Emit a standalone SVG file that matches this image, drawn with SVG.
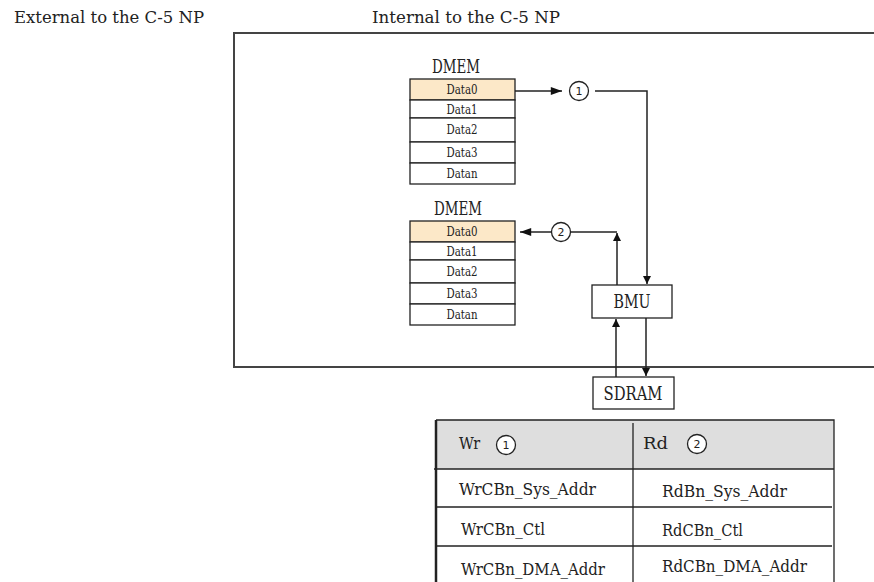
<svg xmlns="http://www.w3.org/2000/svg" width="874" height="582" viewBox="0 0 874 582">
<defs>
<style>
text{font-family:"DejaVu Serif","Liberation Serif",serif;fill:#222}
.lbl{font-size:16px}
.cell{font-size:12px;text-anchor:middle}
.big{font-size:18px;text-anchor:middle}
.tb{font-size:16px}
.num{font-size:11px;text-anchor:middle;font-family:"DejaVu Sans",sans-serif}
.box{fill:#fff;stroke:#222;stroke-width:1.3}
.hl{fill:#fce8c8;stroke:#222;stroke-width:1.3}
.ln{fill:none;stroke:#222;stroke-width:1.5}
.frame{fill:none;stroke:#444;stroke-width:2}
.circ{fill:#fff;stroke:#222;stroke-width:1.3}
</style>
<marker id="ah" viewBox="0 0 10 10" refX="10" refY="5" markerWidth="10" markerHeight="8" markerUnits="userSpaceOnUse" orient="auto">
<path d="M0,0 L10,5 L0,10 z" fill="#111"/>
</marker>
<marker id="ahl" viewBox="0 0 14 10" refX="14" refY="5" markerWidth="14" markerHeight="8" markerUnits="userSpaceOnUse" orient="auto">
<path d="M0,0 L14,5 L0,10 z" fill="#111"/>
</marker>
</defs>
<rect width="874" height="582" fill="#fff"/>

<g id="labels">
<text class="lbl" x="14" y="23" textLength="190" lengthAdjust="spacingAndGlyphs">External to the C-5 NP</text>
<text class="lbl" x="372" y="23" textLength="188" lengthAdjust="spacingAndGlyphs">Internal to the C-5 NP</text>
</g>

<g id="frame">
<path class="frame" d="M874,33 H234 V367 H874"/>
</g>

<g id="dmem1">
<text class="big" x="456" y="73" textLength="48" lengthAdjust="spacingAndGlyphs">DMEM</text>
<rect class="hl" x="410" y="79" width="105" height="21"/>
<rect class="box" x="410" y="100" width="105" height="18"/>
<rect class="box" x="410" y="118" width="105" height="24"/>
<rect class="box" x="410" y="142" width="105" height="21"/>
<rect class="box" x="410" y="163" width="105" height="21"/>
<text class="cell" x="462" y="94" textLength="31" lengthAdjust="spacingAndGlyphs">Data0</text>
<text class="cell" x="462" y="114" textLength="31" lengthAdjust="spacingAndGlyphs">Data1</text>
<text class="cell" x="462" y="134" textLength="31" lengthAdjust="spacingAndGlyphs">Data2</text>
<text class="cell" x="462" y="157" textLength="31" lengthAdjust="spacingAndGlyphs">Data3</text>
<text class="cell" x="462" y="178" textLength="31" lengthAdjust="spacingAndGlyphs">Datan</text>
</g>

<g id="dmem2">
<text class="big" x="458" y="215" textLength="48" lengthAdjust="spacingAndGlyphs">DMEM</text>
<rect class="hl" x="410" y="221" width="105" height="21"/>
<rect class="box" x="410" y="242" width="105" height="18"/>
<rect class="box" x="410" y="260" width="105" height="23"/>
<rect class="box" x="410" y="283" width="105" height="21"/>
<rect class="box" x="410" y="304" width="105" height="21"/>
<text class="cell" x="462" y="236" textLength="31" lengthAdjust="spacingAndGlyphs">Data0</text>
<text class="cell" x="462" y="256" textLength="31" lengthAdjust="spacingAndGlyphs">Data1</text>
<text class="cell" x="462" y="276" textLength="31" lengthAdjust="spacingAndGlyphs">Data2</text>
<text class="cell" x="462" y="298" textLength="31" lengthAdjust="spacingAndGlyphs">Data3</text>
<text class="cell" x="462" y="319" textLength="31" lengthAdjust="spacingAndGlyphs">Datan</text>
</g>

<g id="bmu">
<rect class="box" x="592" y="285" width="80" height="33"/>
<text class="big" x="632" y="308" textLength="37" lengthAdjust="spacingAndGlyphs">BMU</text>
</g>

<g id="sdram">
<rect class="box" x="593" y="377" width="81" height="32"/>
<text class="big" x="633" y="400" textLength="59" lengthAdjust="spacingAndGlyphs">SDRAM</text>
</g>

<g id="connectors">
<line class="ln" x1="515" y1="91" x2="562" y2="91" marker-end="url(#ahl)"/>
<path class="ln" d="M595,91 H647 V284" marker-end="url(#ah)"/>
<path class="ln" d="M617,285 V233" marker-end="url(#ah)"/>
<line class="ln" x1="617" y1="232" x2="571" y2="232"/>
<line class="ln" x1="551" y1="232" x2="520" y2="232" marker-end="url(#ahl)"/>
<line class="ln" x1="616" y1="377" x2="616" y2="319" marker-end="url(#ah)"/>
<line class="ln" x1="646" y1="318" x2="646" y2="376" marker-end="url(#ah)"/>
</g>

<g id="circle1">
<circle class="circ" cx="579" cy="91" r="9.5"/>
<text class="num" x="579" y="95">1</text>
</g>
<g id="circle2">
<circle class="circ" cx="561" cy="232" r="9.5"/>
<text class="num" x="561" y="236">2</text>
</g>

<g id="table">
<rect x="436" y="420" width="398" height="49" fill="#dedede"/>
<path d="M436,420 H834 V582" fill="none" stroke="#222" stroke-width="1.3"/>
<path d="M436,420 V582" fill="none" stroke="#222" stroke-width="2.5"/>
<line x1="434" y1="469" x2="834" y2="469" stroke="#222" stroke-width="1.3"/>
<line x1="633" y1="423" x2="633" y2="582" stroke="#222" stroke-width="1.3"/>
<line x1="436" y1="507" x2="832" y2="507" stroke="#222" stroke-width="1.3"/>
<line x1="436" y1="546" x2="832" y2="546" stroke="#222" stroke-width="1.3"/>
<text class="tb" x="459" y="449" textLength="21" lengthAdjust="spacingAndGlyphs">Wr</text>
<circle class="circ" cx="506" cy="445" r="9.5"/>
<text class="num" x="506" y="449">1</text>
<text class="tb" x="643" y="449" textLength="25" lengthAdjust="spacingAndGlyphs">Rd</text>
<circle class="circ" cx="697" cy="444" r="9.5"/>
<text class="num" x="697" y="448">2</text>
<text class="tb" x="459" y="495" textLength="137" lengthAdjust="spacingAndGlyphs">WrCBn_Sys_Addr</text>
<text class="tb" x="662" y="497" textLength="125" lengthAdjust="spacingAndGlyphs">RdBn_Sys_Addr</text>
<text class="tb" x="461" y="535" textLength="84" lengthAdjust="spacingAndGlyphs">WrCBn_Ctl</text>
<text class="tb" x="662" y="536" textLength="81" lengthAdjust="spacingAndGlyphs">RdCBn_Ctl</text>
<text class="tb" x="461" y="575" textLength="144" lengthAdjust="spacingAndGlyphs">WrCBn_DMA_Addr</text>
<text class="tb" x="662" y="572" textLength="145" lengthAdjust="spacingAndGlyphs">RdCBn_DMA_Addr</text>
</g>
</svg>
